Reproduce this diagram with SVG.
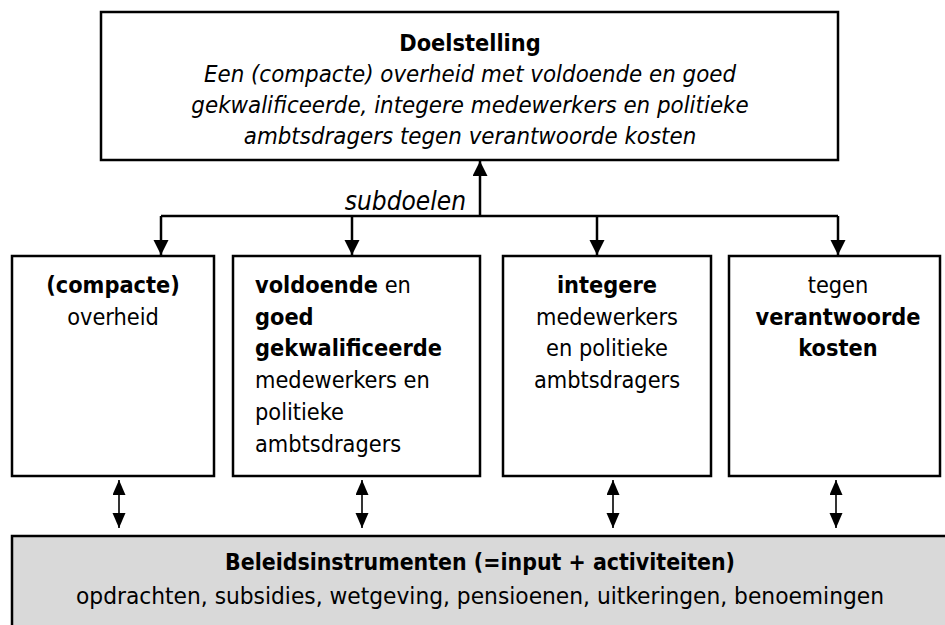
<svg xmlns="http://www.w3.org/2000/svg" width="945" height="625" viewBox="0 0 945 625">
<defs>
<style>
.box{fill:#fff;stroke:#000;stroke-width:2.5}
.grey{fill:#d9d9d9;stroke:#000;stroke-width:2.5}
text{font-family:"DejaVu Sans Condensed","DejaVu Sans",Verdana,sans-serif;font-size:23.3px;fill:#000}
.b{font-weight:bold}
.i{font-style:italic}
.ti{font-size:23.8px}
.sd{font-size:26px}
.c{text-anchor:middle}
.con{fill:none;stroke:#000;stroke-width:2.5}
.dbl{fill:none;stroke:#000;stroke-width:1.6}
</style>
<marker id="ah" markerUnits="userSpaceOnUse" markerWidth="16" markerHeight="16" refX="15" refY="7.5" orient="auto">
<path d="M0,0 L15,7.5 L0,15 z" fill="#000"/>
</marker>
<marker id="ah2" markerUnits="userSpaceOnUse" markerWidth="16" markerHeight="14" refX="15" refY="6.5" orient="auto-start-reverse">
<path d="M0,0 L15,6.5 L0,13 z" fill="#000"/>
</marker>
</defs>

<g id="connectors">
<path class="con" d="M480,216 V161" marker-end="url(#ah)"/>
<path class="con" d="M161,216 H838"/>
<path class="con" d="M161,216 V255" marker-end="url(#ah)"/>
<path class="con" d="M352,216 V255" marker-end="url(#ah)"/>
<path class="con" d="M597,216 V255" marker-end="url(#ah)"/>
<path class="con" d="M838,216 V255" marker-end="url(#ah)"/>
<text class="i sd" x="466" y="210" text-anchor="end">subdoelen</text>
<path class="dbl" d="M119,480 V528" marker-start="url(#ah2)" marker-end="url(#ah2)"/>
<path class="dbl" d="M362,480 V528" marker-start="url(#ah2)" marker-end="url(#ah2)"/>
<path class="dbl" d="M613,480 V528" marker-start="url(#ah2)" marker-end="url(#ah2)"/>
<path class="dbl" d="M836,480 V528" marker-start="url(#ah2)" marker-end="url(#ah2)"/>
</g>

<g id="doelstelling">
<rect class="box" x="101" y="12" width="737" height="148"/>
<text class="b c" x="470" y="51">Doelstelling</text>
<text class="i ti c" x="470" y="82">Een (compacte) overheid met voldoende en goed</text>
<text class="i ti c" x="470" y="113">gekwalificeerde, integere medewerkers en politieke</text>
<text class="i ti c" x="470" y="144">ambtsdragers tegen verantwoorde kosten</text>
</g>

<g id="compacte-overheid">
<rect class="box" x="12" y="256" width="202" height="220"/>
<text class="b c" x="113" y="293">(compacte)</text>
<text class="c" x="113" y="325">overheid</text>
</g>

<g id="voldoende-goed">
<rect class="box" x="233" y="256" width="247" height="220"/>
<text x="255" y="293"><tspan class="b">voldoende</tspan> en</text>
<text class="b" x="255" y="325">goed</text>
<text class="b" x="255" y="356">gekwalificeerde</text>
<text x="255" y="388">medewerkers en</text>
<text x="255" y="420">politieke</text>
<text x="255" y="452">ambtsdragers</text>
</g>

<g id="integere">
<rect class="box" x="503" y="256" width="208" height="220"/>
<text class="b c" x="607" y="293">integere</text>
<text class="c" x="607" y="325">medewerkers</text>
<text class="c" x="607" y="356">en politieke</text>
<text class="c" x="607" y="388">ambtsdragers</text>
</g>

<g id="verantwoorde-kosten">
<rect class="box" x="729" y="256" width="211" height="220"/>
<text class="c" x="838" y="293">tegen</text>
<text class="b c" x="838" y="325">verantwoorde</text>
<text class="b c" x="838" y="356">kosten</text>
</g>

<g id="beleidsinstrumenten">
<rect class="grey" x="12" y="536" width="945" height="100"/>
<text class="b c" x="480" y="570" textLength="510" lengthAdjust="spacingAndGlyphs">Beleidsinstrumenten (=input + activiteiten)</text>
<text class="c" x="480" y="604" textLength="808" lengthAdjust="spacingAndGlyphs">opdrachten, subsidies, wetgeving, pensioenen, uitkeringen, benoemingen</text>
</g>
</svg>
